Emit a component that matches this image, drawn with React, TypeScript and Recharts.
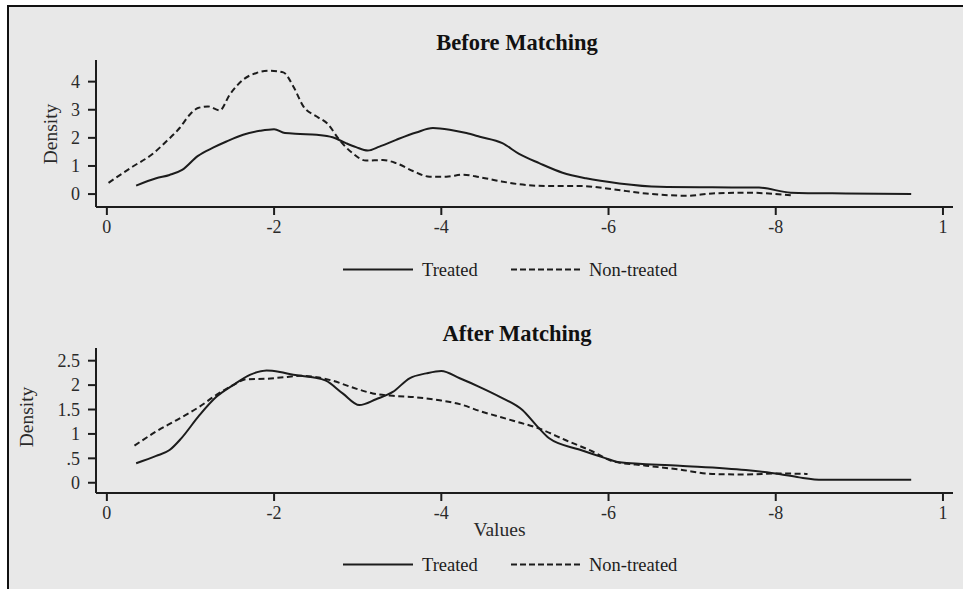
import { Line, LineChart, XAxis, YAxis } from "recharts";

// before matching
const beforeTreatedX = [0.35, 0.59, 0.75, 0.9, 1.09, 1.27, 1.43, 1.63, 1.83, 2.0, 2.13, 2.31, 2.51, 2.7, 2.86, 2.98, 3.12, 3.26, 3.46, 3.7, 3.9, 4.1, 4.3, 4.46, 4.73, 4.93, 5.17, 5.45, 5.73, 6.13, 6.61, 7.24, 7.8, 8.18, 8.84, 9.62];
const beforeTreatedY = [0.3, 0.56, 0.68, 0.86, 1.36, 1.65, 1.87, 2.11, 2.25, 2.31, 2.17, 2.14, 2.11, 2.02, 1.81, 1.67, 1.55, 1.69, 1.93, 2.19, 2.35, 2.29, 2.17, 2.04, 1.81, 1.43, 1.1, 0.76, 0.56, 0.38, 0.26, 0.24, 0.23, 0.05, 0.02, 0.0];
const beforeControlX = [0.02, 0.31, 0.53, 0.71, 0.87, 0.99, 1.09, 1.21, 1.35, 1.47, 1.63, 1.79, 1.95, 2.11, 2.23, 2.35, 2.51, 2.64, 2.78, 2.94, 3.1, 3.3, 3.46, 3.66, 3.86, 4.06, 4.26, 4.46, 4.7, 4.93, 5.25, 5.65, 6.05, 6.45, 6.93, 7.24, 7.64, 8.18];
const beforeControlY = [0.4, 0.98, 1.39, 1.87, 2.35, 2.82, 3.06, 3.12, 2.98, 3.54, 4.07, 4.31, 4.39, 4.33, 3.83, 3.12, 2.76, 2.5, 1.93, 1.45, 1.19, 1.21, 1.1, 0.82, 0.62, 0.62, 0.69, 0.6, 0.46, 0.35, 0.29, 0.29, 0.17, 0.02, -0.06, 0.02, 0.05, -0.04];

// after matching
const afterTreatedX = [0.35, 0.59, 0.75, 0.89, 1.11, 1.31, 1.51, 1.71, 1.91, 2.07, 2.23, 2.46, 2.62, 2.82, 3.02, 3.22, 3.42, 3.62, 3.82, 4.0, 4.22, 4.46, 4.7, 4.97, 5.15, 5.29, 5.65, 5.97, 6.13, 6.85, 7.64, 8.04, 8.28, 8.56, 9.62];
const afterTreatedY = [0.4, 0.55, 0.67, 0.91, 1.39, 1.76, 2.0, 2.21, 2.3, 2.27, 2.21, 2.16, 2.09, 1.83, 1.59, 1.71, 1.86, 2.14, 2.24, 2.29, 2.14, 1.96, 1.76, 1.49, 1.15, 0.91, 0.68, 0.5, 0.42, 0.35, 0.26, 0.18, 0.11, 0.06, 0.06];
const afterControlX = [0.33, 0.59, 0.83, 1.11, 1.31, 1.51, 1.67, 1.91, 2.11, 2.31, 2.51, 2.7, 2.94, 3.18, 3.42, 3.7, 3.98, 4.22, 4.46, 4.86, 5.17, 5.49, 5.81, 6.05, 6.45, 6.85, 7.24, 7.64, 8.04, 8.38];
const afterControlY = [0.76, 1.05, 1.28, 1.56, 1.8, 2.0, 2.12, 2.13, 2.16, 2.19, 2.16, 2.09, 1.95, 1.83, 1.78, 1.75, 1.69, 1.61, 1.47, 1.27, 1.11, 0.87, 0.64, 0.44, 0.35, 0.27, 0.18, 0.17, 0.19, 0.18];

const xTicks = [0, 2, 4, 6, 8, 10];
const xTickLabels = ["0", "-2", "-4", "-6", "-8", "1"];
const beforeYTicks = [0, 1, 2, 3, 4];
const afterYTicks = [0, 0.5, 1, 1.5, 2, 2.5];
const afterYTickLabels = ["0", ".5", "1", "1.5", "2", "2.5"];

const serif = "'Liberation Serif', 'DejaVu Serif', serif";
const ink = "#1c1c1c";
const bg = "#e8e8e8";

const toPoints = (xs: number[], ys: number[]) => xs.map((x, i) => ({ x, y: ys[i] }));

interface PanelProps {
  top: number;
  height: number;
  marginTop: number;
  axisHeight: number;
  domain: [number, number];
  yTicks: number[];
  yFormat: (v: number) => string;
  treated: { x: number; y: number }[];
  control: { x: number; y: number }[];
}

function Panel(p: PanelProps) {
  const tick = { fill: "#2a2a2a", fontSize: 18, fontFamily: serif };
  return (
    <div style={{ position: "absolute", left: 0, top: p.top }}>
      <LineChart width={963} height={p.height} margin={{ top: p.marginTop, right: 10, bottom: 0, left: 0 }}>
        <XAxis
          type="number"
          dataKey="x"
          domain={[-0.13, 10.12]}
          ticks={xTicks}
          interval={0}
          allowDataOverflow
          height={p.axisHeight}
          tickFormatter={(v: number) => xTickLabels[xTicks.indexOf(v)]}
          tick={tick}
          tickSize={8}
          tickMargin={5}
          axisLine={{ stroke: ink, strokeWidth: 2 }}
          tickLine={{ stroke: ink, strokeWidth: 2 }}
        />
        <YAxis
          type="number"
          dataKey="y"
          domain={p.domain}
          ticks={p.yTicks}
          interval={0}
          allowDataOverflow
          width={96}
          tickFormatter={p.yFormat}
          tick={tick}
          tickSize={8}
          tickMargin={8}
          axisLine={{ stroke: ink, strokeWidth: 2 }}
          tickLine={{ stroke: ink, strokeWidth: 2 }}
        />
        <Line data={p.treated} dataKey="y" type="monotone" stroke={ink} strokeWidth={2} dot={false} isAnimationActive={false} />
        <Line data={p.control} dataKey="y" type="monotone" stroke={ink} strokeWidth={2} strokeDasharray="6 3.5" dot={false} isAnimationActive={false} />
      </LineChart>
    </div>
  );
}

function LegendRow({ y }: { y: number }) {
  return (
    <g>
      <line x1={343} x2={413} y1={y} y2={y} stroke={ink} strokeWidth={2.2} />
      <text x={422} y={y + 6.5} fontSize={18.5} fontFamily={serif} fill={ink}>Treated</text>
      <line x1={511} x2={582} y1={y} y2={y} stroke={ink} strokeWidth={2.2} strokeDasharray="6 3" />
      <text x={589} y={y + 6.5} fontSize={18.5} fontFamily={serif} fill={ink}>Non-treated</text>
    </g>
  );
}

export default function App() {
  return (
    <div style={{ position: "absolute", left: 0, top: 0, width: 963, height: 589, overflow: "hidden", background: "#fff" }}>
      <div
        style={{
          position: "absolute",
          left: 7,
          top: 5,
          width: 980,
          height: 620,
          background: bg,
          borderTop: "2.5px solid #111",
          borderLeft: "2.5px solid #111",
        }}
      />
      <Panel
        top={0}
        height={300}
        marginTop={60}
        axisHeight={93}
        domain={[-0.46, 4.77]}
        yTicks={beforeYTicks}
        yFormat={(v) => String(v)}
        treated={toPoints(beforeTreatedX, beforeTreatedY)}
        control={toPoints(beforeControlX, beforeControlY)}
      />
      <Panel
        top={295}
        height={294}
        marginTop={53}
        axisHeight={96}
        domain={[-0.21, 2.76]}
        yTicks={afterYTicks}
        yFormat={(v) => afterYTickLabels[afterYTicks.indexOf(v)]}
        treated={toPoints(afterTreatedX, afterTreatedY)}
        control={toPoints(afterControlX, afterControlY)}
      />
      <svg width={963} height={589} style={{ position: "absolute", left: 0, top: 0, pointerEvents: "none" }}>
        <text x={517} y={50} textAnchor="middle" fontSize={22.5} fontWeight="bold" fontFamily={serif} fill="#111">Before Matching</text>
        <text x={517} y={341} textAnchor="middle" fontSize={22.5} fontWeight="bold" fontFamily={serif} fill="#111">After Matching</text>
        <text transform="translate(56.5,134) rotate(-90)" textAnchor="middle" fontSize={19.5} fontFamily={serif} fill="#2a2a2a">Density</text>
        <text transform="translate(33,417) rotate(-90)" textAnchor="middle" fontSize={19.5} fontFamily={serif} fill="#2a2a2a">Density</text>
        <text x={499.5} y={536} textAnchor="middle" fontSize={19.5} fontFamily={serif} fill="#2a2a2a">Values</text>
        <LegendRow y={269.5} />
        <LegendRow y={564.5} />
      </svg>
    </div>
  );
}
